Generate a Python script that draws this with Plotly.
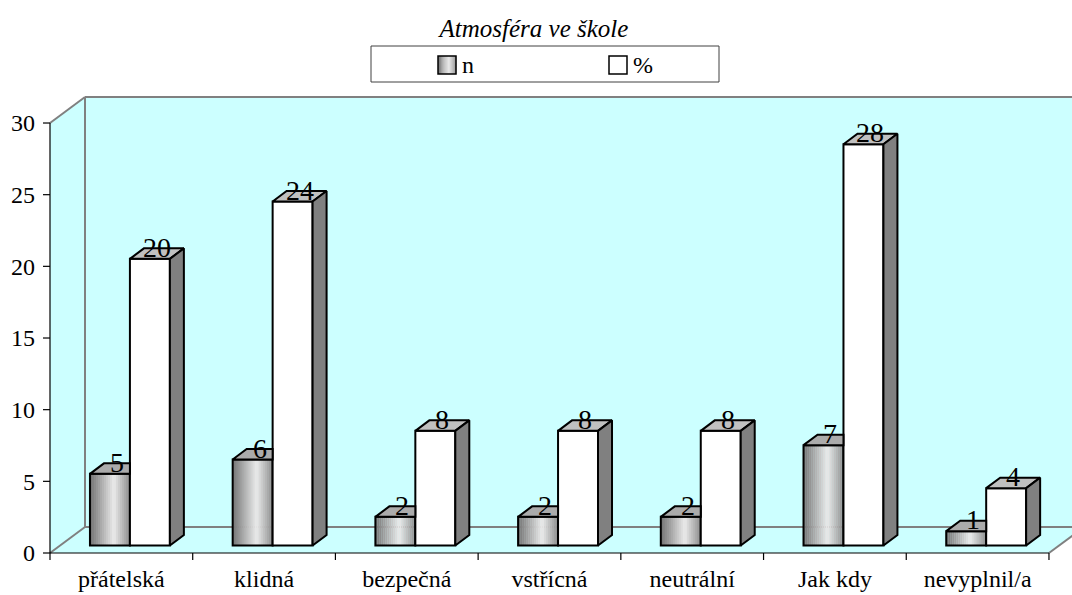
import plotly.graph_objects as go

# ---------------- data ----------------
categories = ["přátelská", "klidná", "bezpečná", "vstřícná", "neutrální", "Jak kdy", "nevyplnil/a"]
n_values = [5, 6, 2, 2, 2, 7, 1]
pct_values = [20, 24, 8, 8, 8, 28, 4]
y_ticks = [0, 5, 10, 15, 20, 25, 30]
series_names = ["n", "%"]
title_text = "Atmosféra ve škole"

# ---------------- geometry / style ----------------
W, H = 1072, 595
ML, MR, MT, MB = 40, 0, 90, 33
PX_X = 142.71          # pixels per category on the front plane
PX_Y = 14.333          # pixels per value unit
X0_PIX, Y0_PIX = 50, 553   # front-plane origin in pixels
FONT = "Liberation Serif, Times New Roman, serif"
CYAN = "#CCFFFF"
WALL_GRAY = "#808080"


def x_of_pix(px):
    return -0.5 + (px - X0_PIX) / PX_X


def y_of_pix(py):
    return (Y0_PIX - py) / PX_Y


xmin, xmax = x_of_pix(ML), x_of_pix(W - MR)
ymin, ymax = y_of_pix(H - MB), y_of_pix(MT)

WDX, WDY = 35 / PX_X, 26 / PX_Y        # wall depth
BDX, BDY = 14 / PX_X, 10.5 / PX_Y      # bar depth
BASE = 7.5 / PX_Y                      # bars stand a bit back in depth
BAR_W = 0.28
OFF_N, OFF_P = -0.22, 0.06

ncat = len(categories)
xl, xr = -0.5, ncat - 0.5
ytop = y_ticks[-1]


def grad_gray(t):
    # cylinder-like horizontal shading
    if t < 0.6:
        v = 115 + (235 - 115) * (t / 0.6)
    else:
        v = 235 - (235 - 140) * ((t - 0.6) / 0.4)
    v = int(round(v))
    return f"rgb({v},{v},{v})"


def path(points, close=True):
    s = "M" + " L".join(f"{x:.5f},{y:.5f}" for x, y in points)
    return s + (" Z" if close else "")


shapes = []
# walls and floor (cyan)
shapes.append(dict(type="path", xref="x", yref="y", layer="below",
                   path=path([(xl, 0), (xl, ytop), (xl + WDX, ytop + WDY),
                              (xr + WDX, ytop + WDY), (xr + WDX, WDY), (xr, 0)]),
                   fillcolor=CYAN, line=dict(width=0)))
# gray wall edges
gray_segs = [
    [(xl + WDX, WDY), (xl + WDX, ytop + WDY)],
    [(xl + WDX, ytop + WDY), (xr + WDX, ytop + WDY)],
    [(xl + WDX, WDY), (xr + WDX, WDY)],
    [(xl, ytop), (xl + WDX, ytop + WDY)],
    [(xl, 0), (xl + WDX, WDY)],
    [(xr, 0), (xr + WDX, WDY)],
]
for seg in gray_segs:
    shapes.append(dict(type="path", xref="x", yref="y", layer="below",
                       path=path(seg, close=False),
                       line=dict(color=WALL_GRAY, width=2)))
# black front axis lines and ticks
black_segs = [[(xl, 0), (xl, ytop)], [(xl, 0), (xr, 0)]]
for yt in y_ticks:
    black_segs.append([(xl - 7 / PX_X, yt), (xl, yt)])
for k in range(ncat + 1):
    black_segs.append([(xl + k, 0), (xl + k, -7 / PX_Y)])
for seg in black_segs:
    shapes.append(dict(type="path", xref="x", yref="y", layer="below",
                       path=path(seg, close=False),
                       line=dict(color="black", width=1.2)))
# gradient shading of the n bars' front faces
NSTRIP = 20
for i, v in enumerate(n_values):
    x0 = i + OFF_N
    for k in range(NSTRIP):
        shapes.append(dict(type="rect", xref="x", yref="y", layer="below",
                           x0=x0 + k * BAR_W / NSTRIP, x1=x0 + (k + 1) * BAR_W / NSTRIP + 0.002,
                           y0=BASE, y1=BASE + v,
                           fillcolor=grad_gray((k + 0.5) / NSTRIP), line=dict(width=0)))

fig = go.Figure()
xs = list(range(ncat))
fig.add_trace(go.Bar(x=xs, y=n_values, base=BASE, offset=OFF_N, width=BAR_W, name=series_names[0],
                     marker=dict(color="rgba(0,0,0,0)", line=dict(color="black", width=2)),
                     showlegend=False, hoverinfo="skip"))
fig.add_trace(go.Bar(x=xs, y=pct_values, base=BASE, offset=OFF_P, width=BAR_W, name=series_names[1],
                     marker=dict(color="white", line=dict(color="black", width=2)),
                     showlegend=False, hoverinfo="skip"))


def face(pts, color):
    pts = pts + [pts[0]]
    fig.add_trace(go.Scatter(x=[p[0] for p in pts], y=[p[1] for p in pts], mode="lines",
                             fill="toself", fillcolor=color,
                             line=dict(color="black", width=2), showlegend=False,
                             hoverinfo="skip"))


for i in range(ncat):
    nv, pv = n_values[i], pct_values[i]
    nx0, nx1 = i + OFF_N, i + OFF_N + BAR_W
    px0, px1 = i + OFF_P, i + OFF_P + BAR_W
    nt, pt = BASE + nv, BASE + pv
    # n top face (clipped where the % bar stands in front)
    if pt >= nt + BDY:
        face([(nx0, nt), (nx1, nt), (nx1, nt + BDY), (nx0 + BDX, nt + BDY)], "#ABABAB")
    else:
        face([(nx0, nt), (nx1, nt), (nx1 + BDX, nt + BDY), (nx0 + BDX, nt + BDY)], "#ABABAB")
        face([(nx1, BASE), (nx1 + BDX, BASE + BDY), (nx1 + BDX, nt + BDY), (nx1, nt)], WALL_GRAY)
    # % bar top and side
    face([(px0, pt), (px1, pt), (px1 + BDX, pt + BDY), (px0 + BDX, pt + BDY)], "#C0C0C0")
    face([(px1, BASE), (px1 + BDX, BASE + BDY), (px1 + BDX, pt + BDY), (px1, pt)], WALL_GRAY)

annotations = []
for i in range(ncat):
    for val, off in ((n_values[i], OFF_N), (pct_values[i], OFF_P)):
        annotations.append(dict(x=i + off + BAR_W / 2 + BDX / 2, y=BASE + val, xref="x", yref="y",
                                text=str(val), showarrow=False, xanchor="center", yanchor="bottom",
                                yshift=-6, font=dict(family=FONT, size=28, color="black")))


# ---------------- custom legend (paper coordinates) ----------------
def pxp(px):
    return (px - ML) / (W - ML - MR)


def pyp(py):
    return (H - MB - py) / (H - MT - MB)


shapes.append(dict(type="rect", xref="paper", yref="paper", x0=pxp(371), x1=pxp(719),
                   y0=pyp(82), y1=pyp(46), fillcolor="white", line=dict(color="#404040", width=1)))
LS = 18
lx_n, lx_p, ly = 438, 609, 56
for k in range(NSTRIP):
    shapes.append(dict(type="rect", xref="paper", yref="paper",
                       x0=pxp(lx_n + k * LS / NSTRIP), x1=pxp(lx_n + (k + 1) * LS / NSTRIP + 0.3),
                       y0=pyp(ly + LS), y1=pyp(ly), fillcolor=grad_gray((k + 0.5) / NSTRIP),
                       line=dict(width=0)))
shapes.append(dict(type="rect", xref="paper", yref="paper", x0=pxp(lx_n), x1=pxp(lx_n + LS),
                   y0=pyp(ly + LS), y1=pyp(ly), line=dict(color="black", width=1.5)))
shapes.append(dict(type="rect", xref="paper", yref="paper", x0=pxp(lx_p), x1=pxp(lx_p + LS),
                   y0=pyp(ly + LS), y1=pyp(ly), fillcolor="white", line=dict(color="black", width=1.5)))
annotations.append(dict(x=pxp(lx_n + LS + 4), y=pyp(ly + LS / 2), xref="paper", yref="paper",
                        text=series_names[0], showarrow=False, xanchor="left", yanchor="middle",
                        font=dict(family=FONT, size=24, color="black")))
annotations.append(dict(x=pxp(lx_p + LS + 4), y=pyp(ly + LS / 2), xref="paper", yref="paper",
                        text=series_names[1], showarrow=False, xanchor="left", yanchor="middle",
                        font=dict(family=FONT, size=24, color="black")))

fig.update_layout(
    width=W, height=H,
    margin=dict(l=ML, r=MR, t=MT, b=MB, pad=0),
    paper_bgcolor="white", plot_bgcolor="white",
    barmode="overlay",
    showlegend=False,
    title=dict(text=title_text, x=534 / W, xanchor="center", y=1 - 28 / H, yanchor="middle",
               xref="container", yref="container",
               font=dict(family=FONT, size=25, color="black", style="italic")),
    xaxis=dict(range=[xmin, xmax], tickvals=xs, ticktext=categories, ticks="",
               showgrid=False, zeroline=False, showline=False, automargin=False,
               ticklabelstandoff=0, tickfont=dict(family=FONT, size=24, color="black")),
    yaxis=dict(range=[ymin, ymax], tickvals=y_ticks, ticks="", showgrid=False, zeroline=False,
               showline=False, automargin=False, ticklabelstandoff=4,
               tickfont=dict(family=FONT, size=24, color="black")),
    shapes=shapes,
    annotations=annotations,
)

fig.write_html("out.html", config={"displayModeBar": False},
               post_script="document.body.style.margin='0';")
